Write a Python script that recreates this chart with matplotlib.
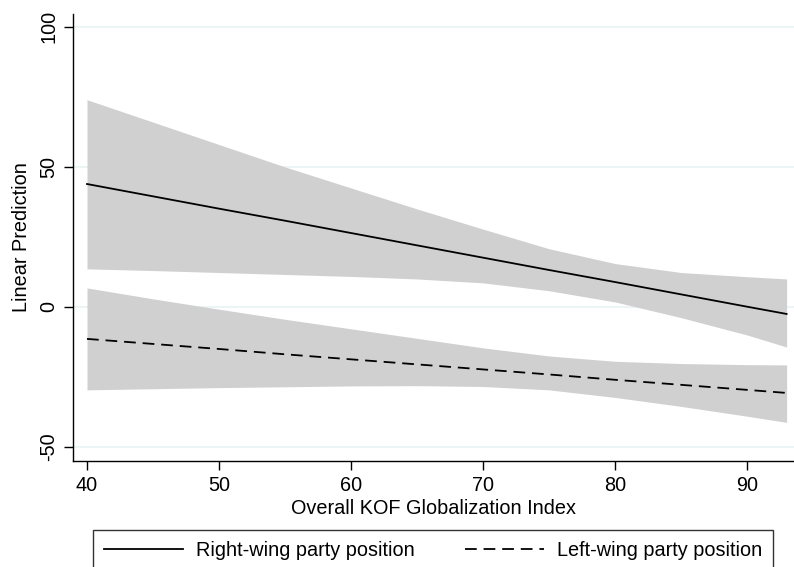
import matplotlib
matplotlib.use("Agg")
import matplotlib.pyplot as plt
from matplotlib.lines import Line2D

plt.rcParams['font.family'] = ['Liberation Sans', 'DejaVu Sans']

kof = [40, 45, 50, 55, 60, 65, 70, 75, 80, 85, 90, 93]

right_pred = [43.9, 39.5, 35.1, 30.8, 26.4, 22.0, 17.6, 13.2, 8.9, 4.5, 0.1, -2.5]
right_upper = [74.0, 66.0, 58.0, 50.0, 42.5, 35.0, 27.8, 20.8, 15.5, 12.3, 10.8, 10.0]
right_lower = [13.6, 13.0, 12.3, 11.6, 10.9, 10.0, 8.6, 5.8, 1.8, -3.8, -10.0, -14.3]

left_pred = [-11.4, -13.2, -15.0, -16.9, -18.7, -20.5, -22.3, -24.1, -26.0, -27.8, -29.6, -30.7]
left_upper = [6.8, 2.9, -0.8, -4.4, -7.8, -11.2, -14.6, -17.5, -19.4, -20.2, -20.6, -20.7]
left_lower = [-29.6, -29.2, -28.8, -28.5, -28.2, -28.1, -28.4, -29.6, -32.3, -35.5, -39.0, -41.2]

x_ticks = [40, 50, 60, 70, 80, 90]
y_ticks = [-50, 0, 50, 100]
x_label = "Overall KOF Globalization Index"
y_label = "Linear Prediction"
legend_labels = ["Right-wing party position", "Left-wing party position"]

FS = 14.3
W, H = 794, 567
fig = plt.figure(figsize=(W / 100, H / 100), dpi=100)
ax = fig.add_axes([73 / W, 1 - 461 / H, (W - 73) / W, (461 - 14) / H])

band_color = "#D0D0D0"
ax.fill_between(kof, right_lower, right_upper, color=band_color, linewidth=0, zorder=2)
ax.fill_between(kof, left_lower, left_upper, color=band_color, linewidth=0, zorder=2)
ax.plot(kof, right_pred, color="black", linewidth=1.3, zorder=3)
ax.plot(kof, left_pred, color="black", linewidth=1.3, linestyle=(0, (6.5, 3.8)), zorder=3)

ax.set_xlim(38.94, 93.56)
ax.set_ylim(-55.0, 104.6)
ax.set_xticks(x_ticks)
ax.set_yticks(y_ticks)
ax.set_yticklabels([str(v) for v in y_ticks], rotation=90, va="center")
ax.tick_params(axis="both", direction="out", length=6.5, width=1, color="black",
               labelsize=FS, pad=4)
ax.grid(axis="y", color="#EAF2F3", linewidth=1.2, zorder=1)
ax.set_axisbelow(True)
for s in ["top", "right"]:
    ax.spines[s].set_visible(False)
for s in ["left", "bottom"]:
    ax.spines[s].set_linewidth(1.0)

ax.set_xlabel(x_label, fontsize=FS, labelpad=3)
ax.set_ylabel(y_label, fontsize=FS, labelpad=6)

handles = [Line2D([], [], color="black", linewidth=1.3),
           Line2D([], [], color="black", linewidth=1.3, linestyle=(0, (6.5, 3.8)))]
leg = fig.legend(handles, legend_labels, loc="upper left",
                 bbox_to_anchor=(93 / W, 1 - 530 / H),
                 ncol=2, frameon=True, fancybox=False, edgecolor="black", fontsize=FS,
                 handlelength=4.0, handletextpad=0.65, borderpad=0.55, borderaxespad=0,
                 columnspacing=2.5)
leg.get_frame().set_linewidth(1.0)

fig.savefig("out.png", dpi=100)
